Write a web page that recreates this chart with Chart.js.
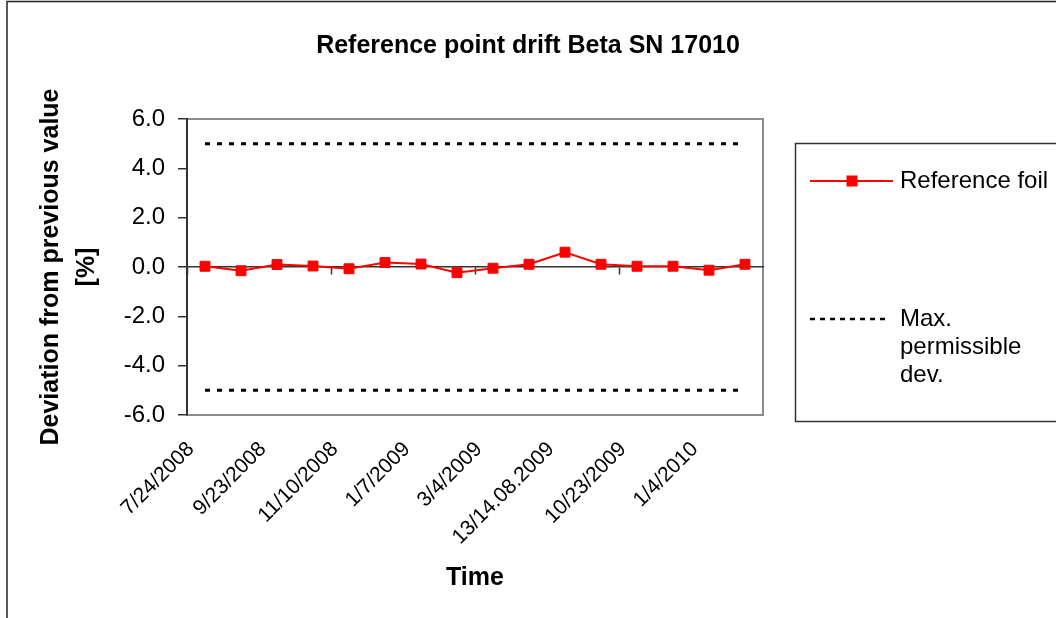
<!DOCTYPE html>
<html><head><meta charset="utf-8">
<script src="https://cdn.jsdelivr.net/npm/chart.js@4.4.0/dist/chart.umd.min.js"></script>
<style>html,body{margin:0;padding:0;background:#fff;overflow:hidden}#wrap{width:1056px;height:618px;position:relative}</style>
</head><body><div id="wrap"><canvas id="c" width="1056" height="618"></canvas></div>
<script>
// ---- data ----
const categories = ['7/24/2008', '', '9/23/2008', '', '11/10/2008', '', '1/7/2009', '', '3/4/2009', '', '13/14.08.2009', '', '10/23/2009', '', '1/4/2010', ''];
const referenceFoil = [0.03, -0.15, 0.10, 0.04, -0.07, 0.18, 0.12, -0.23, -0.05, 0.11, 0.60, 0.11, 0.03, 0.03, -0.13, 0.11];
const upperLimit = [5, 5, 5, 5, 5, 5, 5, 5, 5, 5, 5, 5, 5, 5, 5, 5];
const lowerLimit = [-5, -5, -5, -5, -5, -5, -5, -5, -5, -5, -5, -5, -5, -5, -5, -5];
const yMin = -6, yMax = 6, yStep = 2;
const chartTitle = 'Reference point drift Beta SN 17010';
const yTitle = ['Deviation from previous value', '[%]'];
const xTitle = 'Time';
const seriesNames = ['Reference foil', 'Max. permissible dev.'];

const FONT = '"Liberation Sans", Arial, Helvetica, sans-serif';
Chart.defaults.font.family = FONT;
Chart.defaults.color = '#000';

const framePlugin = {
  id: 'frame',
  beforeDraw(chart) {
    const {ctx, chartArea: a} = chart;
    ctx.save();
    ctx.fillStyle = '#fff';
    ctx.fillRect(0, 0, chart.width, chart.height);
    ctx.strokeStyle = '#222';
    ctx.lineWidth = 1.5;
    ctx.strokeRect(7, 1.5, 1200, 800);
    ctx.strokeStyle = '#8c8c8c';
    ctx.lineWidth = 2;
    ctx.strokeRect(a.left, a.top, a.right - a.left, a.bottom - a.top);
    ctx.restore();
  }
};

function wrapWords(ctx, text, maxW) {
  const words = text.split(' ');
  const lines = [];
  let cur = '';
  for (const w of words) {
    const t = cur ? cur + ' ' + w : w;
    if (cur && ctx.measureText(t).width > maxW) { lines.push(cur); cur = w; }
    else cur = t;
  }
  if (cur) lines.push(cur);
  return lines;
}

const legendPlugin = {
  id: 'boxLegend',
  afterDraw(chart) {
    const {ctx} = chart;
    const ds = chart.data.datasets;
    ctx.save();
    ctx.strokeStyle = '#333';
    ctx.lineWidth = 1.5;
    ctx.strokeRect(795.5, 143.5, 400, 278);
    ctx.font = '24px ' + FONT;
    ctx.fillStyle = '#000';
    ctx.textBaseline = 'middle';
    ctx.textAlign = 'left';
    const items = [{ds: ds[0], y: 181}, {ds: ds[1], y: 319}];
    items.forEach(it => {
      const d = it.ds;
      ctx.save();
      ctx.strokeStyle = d.borderColor;
      ctx.lineWidth = d.legendLineWidth || d.borderWidth;
      ctx.setLineDash(d.legendDash || []);
      ctx.beginPath();
      ctx.moveTo(810, it.y);
      ctx.lineTo(d.legendDash ? 889 : 893, it.y);
      ctx.stroke();
      ctx.restore();
      if (d.pointRadius > 0) {
        ctx.fillStyle = d.backgroundColor;
        ctx.fillRect(852 - 5.5, it.y - 5.5, 11, 11);
        ctx.fillStyle = '#000';
      }
      const lines = wrapWords(ctx, d.label, 156);
      lines.forEach((ln, i) => ctx.fillText(ln, 900, it.y + i * 28));
    });
    ctx.restore();
  }
};

new Chart(document.getElementById('c'), {
  type: 'line',
  data: {
    labels: categories,
    datasets: [
      {
        label: seriesNames[0], data: referenceFoil,
        borderColor: '#ff0000', backgroundColor: '#ff0000', borderWidth: 2,
        pointStyle: 'rect', pointRadius: 7, pointBorderWidth: 1,
        pointBackgroundColor: '#ff0000', pointBorderColor: '#ff0000',
        tension: 0, xAxisID: 'x', yAxisID: 'y'
      },
      {
        label: seriesNames[1], data: upperLimit,
        borderColor: '#000', backgroundColor: '#000', borderWidth: 3,
        borderDash: [5, 7], borderCapStyle: 'butt', pointRadius: 0,
        legendDash: [5, 5], legendLineWidth: 2.5,
        tension: 0, xAxisID: 'x', yAxisID: 'y'
      },
      {
        label: seriesNames[1], data: lowerLimit,
        borderColor: '#000', backgroundColor: '#000', borderWidth: 3,
        borderDash: [5, 7], borderCapStyle: 'butt', pointRadius: 0,
        tension: 0, xAxisID: 'x', yAxisID: 'y'
      }
    ]
  },
  options: {
    responsive: false,
    animation: false,
    devicePixelRatio: 1,
    layout: {padding: {left: 0, right: 0, top: 0, bottom: 0}},
    plugins: {
      legend: {display: false},
      tooltip: {enabled: false},
      title: {
        display: true, text: chartTitle, color: '#000',
        font: {family: FONT, size: 25, weight: 'bold', lineHeight: 1.2},
        padding: {top: 31, bottom: 58}
      }
    },
    scales: {
      x: {
        type: 'category', position: 'bottom', offset: true,
        grid: {display: false, drawTicks: false},
        border: {display: false},
        ticks: {autoSkip: false, minRotation: 45, maxRotation: 45, padding: 22, labelOffset: -14,
          font: {family: FONT, size: 21}, color: '#000'},
        title: {display: true, text: xTitle, color: '#000',
          font: {family: FONT, size: 25, weight: 'bold', lineHeight: 1.2},
          padding: {top: 0, bottom: 25}},
        afterFit(s) { s.height = 203; }
      },
      xZero: {
        type: 'category', position: {y: 0}, offset: true,
        grid: {offset: true, drawOnChartArea: false, drawTicks: true, tickLength: 7, tickWidth: 1.5,
          tickColor: (c) => (c.index !== undefined && c.index % 4 === 0) ? '#333' : 'rgba(0,0,0,0)'},
        border: {display: true, color: '#333', width: 1.5},
        ticks: {display: false}
      },
      y: {
        type: 'linear', position: 'left', min: yMin, max: yMax,
        grid: {drawOnChartArea: false, drawTicks: true, tickLength: 9, tickColor: '#333', lineWidth: 1.5},
        border: {display: true, color: '#333', width: 2},
        ticks: {stepSize: yStep, padding: 13, color: '#000',
          font: {family: FONT, size: 24},
          callback: (v) => Number(v).toFixed(1)},
        title: {display: true, text: yTitle, color: '#000',
          font: {family: FONT, size: 25, weight: 'bold', lineHeight: 1.44},
          padding: {top: 33, bottom: 0}},
        afterFit(s) { s.width = 187; }
      },
      yRight: {
        type: 'linear', position: 'right', display: true,
        grid: {display: false, drawTicks: false},
        border: {display: false},
        ticks: {display: false},
        afterFit(s) { s.width = 293; }
      }
    }
  },
  plugins: [framePlugin, legendPlugin]
});
</script></body></html>
